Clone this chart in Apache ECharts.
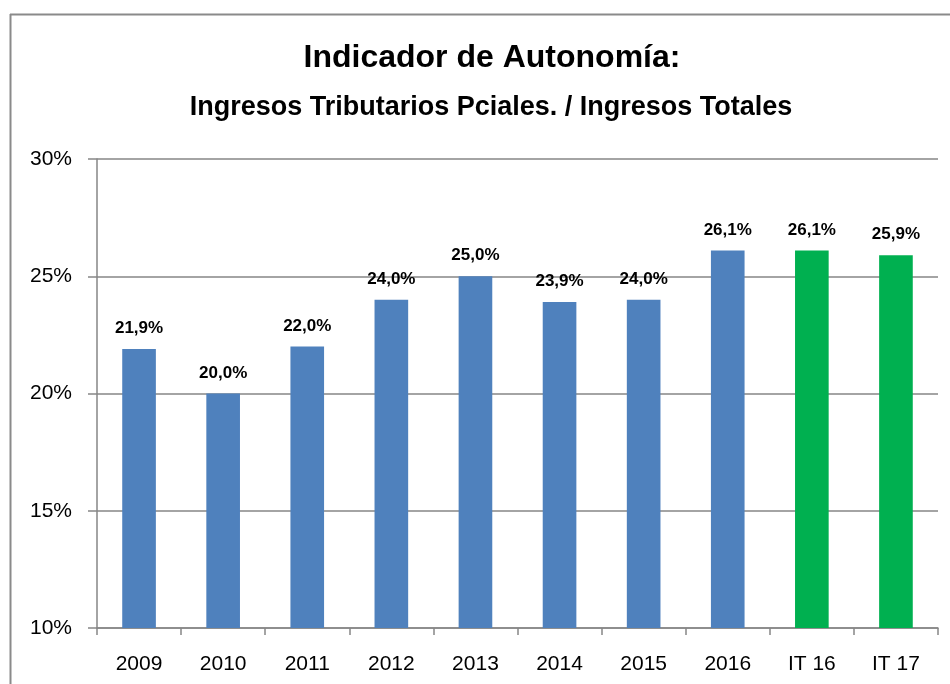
<!DOCTYPE html>
<html><head><meta charset="utf-8">
<script src="https://cdn.jsdelivr.net/npm/echarts@6/dist/echarts.min.js"></script>
<style>html,body{margin:0;padding:0;background:#fff}#c{width:950px;height:684px}</style>
</head><body><div id="c"></div>
<script>
const categories = ['2009','2010','2011','2012','2013','2014','2015','2016','IT 16','IT 17'];
const values = [21.9, 20.0, 22.0, 24.0, 25.0, 23.9, 24.0, 26.1, 26.1, 25.9];
const barColors = ['#4F81BD','#4F81BD','#4F81BD','#4F81BD','#4F81BD','#4F81BD','#4F81BD','#4F81BD','#00B050','#00B050'];
const yTicks = [10, 15, 20, 25, 30];
const titleText = 'Indicador de Autonomía:';
const subtitleText = 'Ingresos Tributarios Pciales. / Ingresos Totales';

const chart = echarts.init(document.getElementById('c'));
const FONT = '"Liberation Sans", Arial, sans-serif';
chart.setOption({
  animation: false,
  backgroundColor: '#fff',
  graphic: [
    {type: 'line', shape: {x1: 10, y1: 14.5, x2: 950, y2: 14.5}, style: {stroke: '#8a8a8a', lineWidth: 2}},
    {type: 'line', shape: {x1: 10.5, y1: 14, x2: 10.5, y2: 684}, style: {stroke: '#8a8a8a', lineWidth: 2}},
    {type: 'text', x: 492, y: 58, style: {text: titleText, align: 'center', verticalAlign: 'middle',
      font: 'bold 32px ' + FONT, fill: '#000'}},
    {type: 'text', x: 491, y: 108, style: {text: subtitleText, align: 'center', verticalAlign: 'middle',
      font: 'bold 27px ' + FONT, fill: '#000'}}
  ],
  grid: {left: 97, right: 12, top: 159, bottom: 56, containLabel: false},
  xAxis: {
    type: 'category', data: categories,
    axisLine: {lineStyle: {color: '#868686', width: 1.5}},
    axisTick: {show: true, length: 7, lineStyle: {color: '#868686', width: 1.5}},
    axisLabel: {fontFamily: FONT, fontSize: 21, color: '#000', margin: 26}
  },
  yAxis: {
    type: 'value', min: yTicks[0], max: yTicks[yTicks.length-1], interval: 5,
    axisLine: {show: true, lineStyle: {color: '#868686', width: 1.5}},
    axisTick: {show: true, length: 9, lineStyle: {color: '#868686', width: 1.5}},
    splitLine: {lineStyle: {color: '#868686', width: 1.5}},
    axisLabel: {fontFamily: FONT, fontSize: 21, color: '#000', margin: 25, formatter: v => v + '%'}
  },
  series: [{
    type: 'bar',
    barWidth: '40%',
    data: values.map((v, i) => ({value: v, itemStyle: {color: barColors[i]}})),
    label: {
      show: true, position: 'top', distance: 12,
      fontFamily: FONT, fontSize: 17, fontWeight: 'bold', color: '#000',
      formatter: p => p.value.toFixed(1).replace('.', ',') + '%'
    }
  }]
});
</script></body></html>
